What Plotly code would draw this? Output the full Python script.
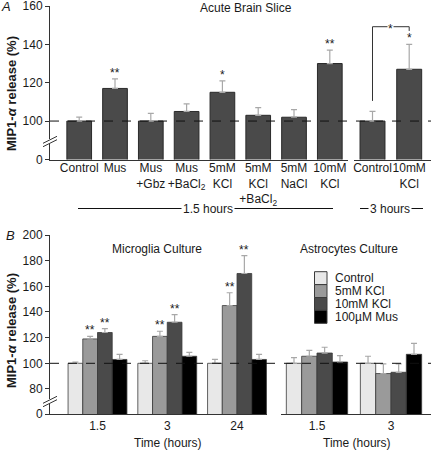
import plotly.graph_objects as go

W, H = 431, 450
FONT = "Liberation Sans, Arial, sans-serif"

# ---------------- Data: Panel A (Acute Brain Slice) ----------------
a15_labels = ["Control", "Mus", "Mus<br>+Gbz", "Mus<br>+BaCl<sub>2</sub>", "5mM<br>KCl",
              "5mM<br>KCl<br>+BaCl<sub>2</sub>", "5mM<br>NaCl", "10mM<br>KCl"]
a15_values = [100, 117, 100, 105, 115, 103, 102, 130]
a15_errtop = [102, 122, 104, 109, 121, 107, 106, 137]
a15_stars = ["", "**", "", "", "*", "", "", "**"]

a3_labels = ["Control", "10mM<br>KCl"]
a3_values = [100, 127]
a3_errtop = [105, 140]
a3_stars = ["", "*"]

# ---------------- Data: Panel B (cultures) ----------------
series_names = ["Control", "5mM KCl", "10mM KCl", "100µM Mus"]
series_colors = ["#e8e8e8", "#9a9a9a", "#4a4a4a", "#000000"]

micro_times = ["1.5", "3", "24"]
micro_values = {
    "Control": [100, 100, 100],
    "5mM KCl": [119, 121, 145],
    "10mM KCl": [124, 132, 170],
    "100µM Mus": [103, 105.5, 103],
}
micro_errtop = {
    "Control": [101, 102, 103],
    "5mM KCl": [121, 125, 155],
    "10mM KCl": [127, 138, 184],
    "100µM Mus": [107, 108.5, 107],
}
micro_stars = {
    "5mM KCl": ["**", "**", "**"],
    "10mM KCl": ["**", "**", "**"],
}

astro_times = ["1.5", "3"]
astro_values = {
    "Control": [100, 100],
    "5mM KCl": [105.5, 92],
    "10mM KCl": [108, 93],
    "100µM Mus": [101, 107],
}
astro_errtop = {
    "Control": [104.5, 105.5],
    "5mM KCl": [110, 99.5],
    "10mM KCl": [112.5, 99.5],
    "100µM Mus": [106, 115.5],
}

# axis break equivalents (value drawn at the "0" tick)
A_ZERO = 80.0
B_ZERO = 60.3


def fx(px):
    return px / W


def fy(py):
    return 1 - py / H


fig = go.Figure()

bar_dark = "#4a4a4a"
err_col = "#a8a8a8"

# Panel A, 1.5 h
xa = list(range(len(a15_values)))
fig.add_trace(go.Bar(
    x=xa, y=a15_values, width=0.69, marker=dict(color=bar_dark, line=dict(color="#2a2a2a", width=1)),
    error_y=dict(type="data", symmetric=False,
                 array=[e - v for e, v in zip(a15_errtop, a15_values)],
                 arrayminus=[0] * len(a15_values), color=err_col, thickness=1.2, width=3),
    xaxis="x", yaxis="y", showlegend=False))
# Panel A, 3 h
xa3 = list(range(len(a3_values)))
fig.add_trace(go.Bar(
    x=xa3, y=a3_values, width=0.68, marker=dict(color=bar_dark, line=dict(color="#2a2a2a", width=1)),
    error_y=dict(type="data", symmetric=False,
                 array=[e - v for e, v in zip(a3_errtop, a3_values)],
                 arrayminus=[0] * len(a3_values), color=err_col, thickness=1.2, width=3),
    xaxis="x2", yaxis="y2", showlegend=False))

# Panel B microglia
wb1 = 0.211
xb1 = list(range(len(micro_times)))
for k, name in enumerate(series_names):
    vals = micro_values[name]
    tops = micro_errtop[name]
    fig.add_trace(go.Bar(
        x=xb1, y=vals, width=wb1, offset=(k - 2) * wb1,
        marker=dict(color=series_colors[k], line=dict(color="#3a3a3a", width=0.8)),
        error_y=dict(type="data", symmetric=False, array=[t - v for t, v in zip(tops, vals)],
                     arrayminus=[0] * len(vals), color=err_col, thickness=1.2, width=3),
        xaxis="x3", yaxis="y3", showlegend=False))

# Panel B astrocytes
wb2 = 0.207
xb2 = list(range(len(astro_times)))
for k, name in enumerate(series_names):
    vals = astro_values[name]
    tops = astro_errtop[name]
    fig.add_trace(go.Bar(
        x=xb2, y=vals, width=wb2, offset=(k - 2) * wb2,
        marker=dict(color=series_colors[k], line=dict(color="#3a3a3a", width=0.8)),
        error_y=dict(type="data", symmetric=False, array=[t - v for t, v in zip(tops, vals)],
                     arrayminus=[0] * len(vals), color=err_col, thickness=1.2, width=3),
        xaxis="x4", yaxis="y4", showlegend=False))

tickfont = dict(family=FONT, size=12, color="#1a1a1a")

ax_common = dict(showgrid=False, zeroline=False, showline=True, linecolor="#333", linewidth=1,
                 tickfont=tickfont, fixedrange=True, automargin=False,
                 ticklabeloverflow="allow")
xax_common = dict(**ax_common, ticks="", tickangle=0)

A_dom_y = [fy(159.5), fy(6)]
B_dom_y = [fy(414.3), fy(235)]

fig.update_layout(
    template="none",
    width=W, height=H, margin=dict(l=0, r=0, t=0, b=0, pad=0, autoexpand=False),
    paper_bgcolor="white", plot_bgcolor="white",
    font=dict(family=FONT, size=12, color="#1a1a1a"),
    barmode="group", showlegend=False,
    xaxis=dict(**xax_common, domain=[fx(50), fx(348)], range=[-0.816, 7.508],
               ticklabelstandoff=-3,
               tickmode="array", tickvals=xa, ticktext=a15_labels, anchor="y"),
    yaxis=dict(**ax_common, ticks="outside", ticklen=4,
               tickcolor="#333", domain=A_dom_y, range=[A_ZERO - 0.05, 160], anchor="x",
               tickmode="array", tickvals=[A_ZERO, 100, 120, 140, 160],
               ticktext=["0", "100", "120", "140", "160"]),
    xaxis2=dict(**xax_common, domain=[fx(354), 1.0], range=[-0.504, 1.594],
                ticklabelstandoff=-3,
                tickmode="array", tickvals=xa3, ticktext=a3_labels, anchor="y2"),
    yaxis2=dict(showgrid=False, zeroline=False, showline=False, showticklabels=False, ticks="",
                automargin=False, domain=A_dom_y, range=[A_ZERO - 0.05, 160], anchor="x2",
                fixedrange=True),
    xaxis3=dict(**xax_common, domain=[fx(50), fx(267)], range=[-0.681, 2.43],
                tickmode="array", tickvals=xb1, ticktext=micro_times, anchor="y3"),
    yaxis3=dict(**ax_common, ticks="outside", ticklen=4,
                tickcolor="#333", domain=B_dom_y, range=[B_ZERO - 0.05, 200], anchor="x3",
                tickmode="array", tickvals=[B_ZERO, 80, 100, 120, 140, 160, 180, 200],
                ticktext=["0", "80", "100", "120", "140", "160", "180", "200"]),
    xaxis4=dict(**xax_common, domain=[fx(280.7), 1.0], range=[-0.49, 1.54],
                tickmode="array", tickvals=xb2, ticktext=astro_times, anchor="y4"),
    yaxis4=dict(showgrid=False, zeroline=False, showline=False, showticklabels=False, ticks="",
                automargin=False, domain=B_dom_y, range=[B_ZERO - 0.05, 200], anchor="x4",
                fixedrange=True),
)

shapes = []
ann = []


def text_ann(x, y, text, size=12, xanchor="center", yanchor="middle", **kw):
    d = dict(x=x, y=y, xref="paper", yref="paper", text=text, showarrow=False,
             xanchor=xanchor, yanchor=yanchor,
             font=dict(family=FONT, size=size, color="#1a1a1a"))
    d.update(kw)
    return d


# dashed reference lines at 100 %
shapes.append(dict(type="line", xref="paper", yref="y", x0=fx(50), x1=1.0, y0=100, y1=100,
                   line=dict(color="#111", width=1, dash="dash"), layer="above"))
shapes.append(dict(type="line", xref="paper", yref="y3", x0=fx(50), x1=1.0, y0=100, y1=100,
                   line=dict(color="#111", width=1, dash="dash"), layer="above"))

# axis breaks
for ymid in (141.5, 401.5):
    shapes.append(dict(type="rect", xref="paper", yref="paper", x0=fx(48), x1=fx(53),
                       y0=fy(ymid + 2.5), y1=fy(ymid - 2.5), fillcolor="white",
                       line=dict(width=0), layer="above"))
    for d in (-1.7, 1.7):
        shapes.append(dict(type="line", xref="paper", yref="paper",
                           x0=fx(43), y0=fy(ymid + 3.5 + d), x1=fx(57), y1=fy(ymid - 3.5 + d),
                           line=dict(color="#333", width=1), layer="above"))

# significance stars
star_font = dict(family=FONT, size=12, color="#1a1a1a")
for i, s in enumerate(a15_stars):
    if s:
        ann.append(dict(x=xa[i], y=a15_errtop[i], xref="x", yref="y", text=s, showarrow=False,
                        xanchor="center", yanchor="bottom", yshift=-3, font=star_font))
for i, s in enumerate(a3_stars):
    if s:
        ann.append(dict(x=xa3[i], y=a3_errtop[i], xref="x2", yref="y2", text=s, showarrow=False,
                        xanchor="center", yanchor="bottom", yshift=-3, font=star_font))
for k, name in enumerate(series_names):
    if name in micro_stars:
        for i, s in enumerate(micro_stars[name]):
            if s:
                ann.append(dict(x=xb1[i] + (k - 1.5) * wb1, y=micro_errtop[name][i], xref="x3",
                                yref="y3", text=s, showarrow=False, xanchor="center",
                                yanchor="bottom", yshift=-3, font=star_font))

# comparison bracket (3 h control vs 10mM KCl)
br_top = 149.2
shapes.append(dict(type="path", xref="x2", yref="y2",
                   path=f"M {xa3[0]},110.5 L {xa3[0]},{br_top} L {xa3[1]},{br_top} L {xa3[1]},147",
                   line=dict(color="#333", width=1)))
ann.append(dict(x=(xa3[0] + xa3[1]) / 2, y=br_top, xref="x2", yref="y2", text="*",
                showarrow=False, xanchor="center", yanchor="middle", yshift=-2,
                bgcolor="white", font=star_font, borderpad=0))

# duration bars under panel A
shapes.append(dict(type="line", xref="paper", yref="paper", x0=fx(78), x1=fx(333),
                   y0=fy(208.5), y1=fy(208.5), line=dict(color="#111", width=1)))
ann.append(text_ann(fx(208), fy(208.5), "1.5 hours", bgcolor="white", borderpad=1))
shapes.append(dict(type="line", xref="paper", yref="paper", x0=fx(360), x1=fx(423),
                   y0=fy(208.5), y1=fy(208.5), line=dict(color="#111", width=1)))
ann.append(text_ann(fx(390), fy(208.5), "3 hours", bgcolor="white", borderpad=1))

# titles
ann.append(text_ann(fx(246), fy(8), "Acute Brain Slice"))
ann.append(text_ann(fx(157), fy(249), "Microglia Culture"))
ann.append(text_ann(fx(349), fy(249), "Astrocytes Culture"))
ann.append(text_ann(fx(168), fy(442.5), "Time (hours)"))
ann.append(text_ann(fx(356.5), fy(442.5), "Time (hours)"))

# panel letters
ann.append(text_ann(fx(6), fy(7), "<i>A</i>", size=13))
ann.append(text_ann(fx(10), fy(235), "<i>B</i>", size=13))

# y-axis titles
ytitle = "<b>MIP1-<i>α</i> release (%)</b>"
ann.append(text_ann(fx(11), fy(94), ytitle, size=13, textangle=-90))
ann.append(text_ann(fx(11), fy(331), ytitle, size=13, textangle=-90))

# legend (stacked swatches)
ytops = [271.7, 284.6, 297.5, 310.4]
for k, name in enumerate(series_names):
    y0 = ytops[k]
    shapes.append(dict(type="rect", xref="paper", yref="paper", x0=fx(314.5), x1=fx(327),
                       y0=fy(y0 + 12.9), y1=fy(y0), fillcolor=series_colors[k],
                       line=dict(color="#3a3a3a", width=1)))
    ann.append(text_ann(fx(333), fy(y0 + 6.6), name, xanchor="left"))

fig.update_layout(shapes=shapes, annotations=ann)
fig.write_html("out.html", config={"displayModeBar": False},
               post_script="document.body.style.margin='0';document.body.style.overflow='hidden';")
